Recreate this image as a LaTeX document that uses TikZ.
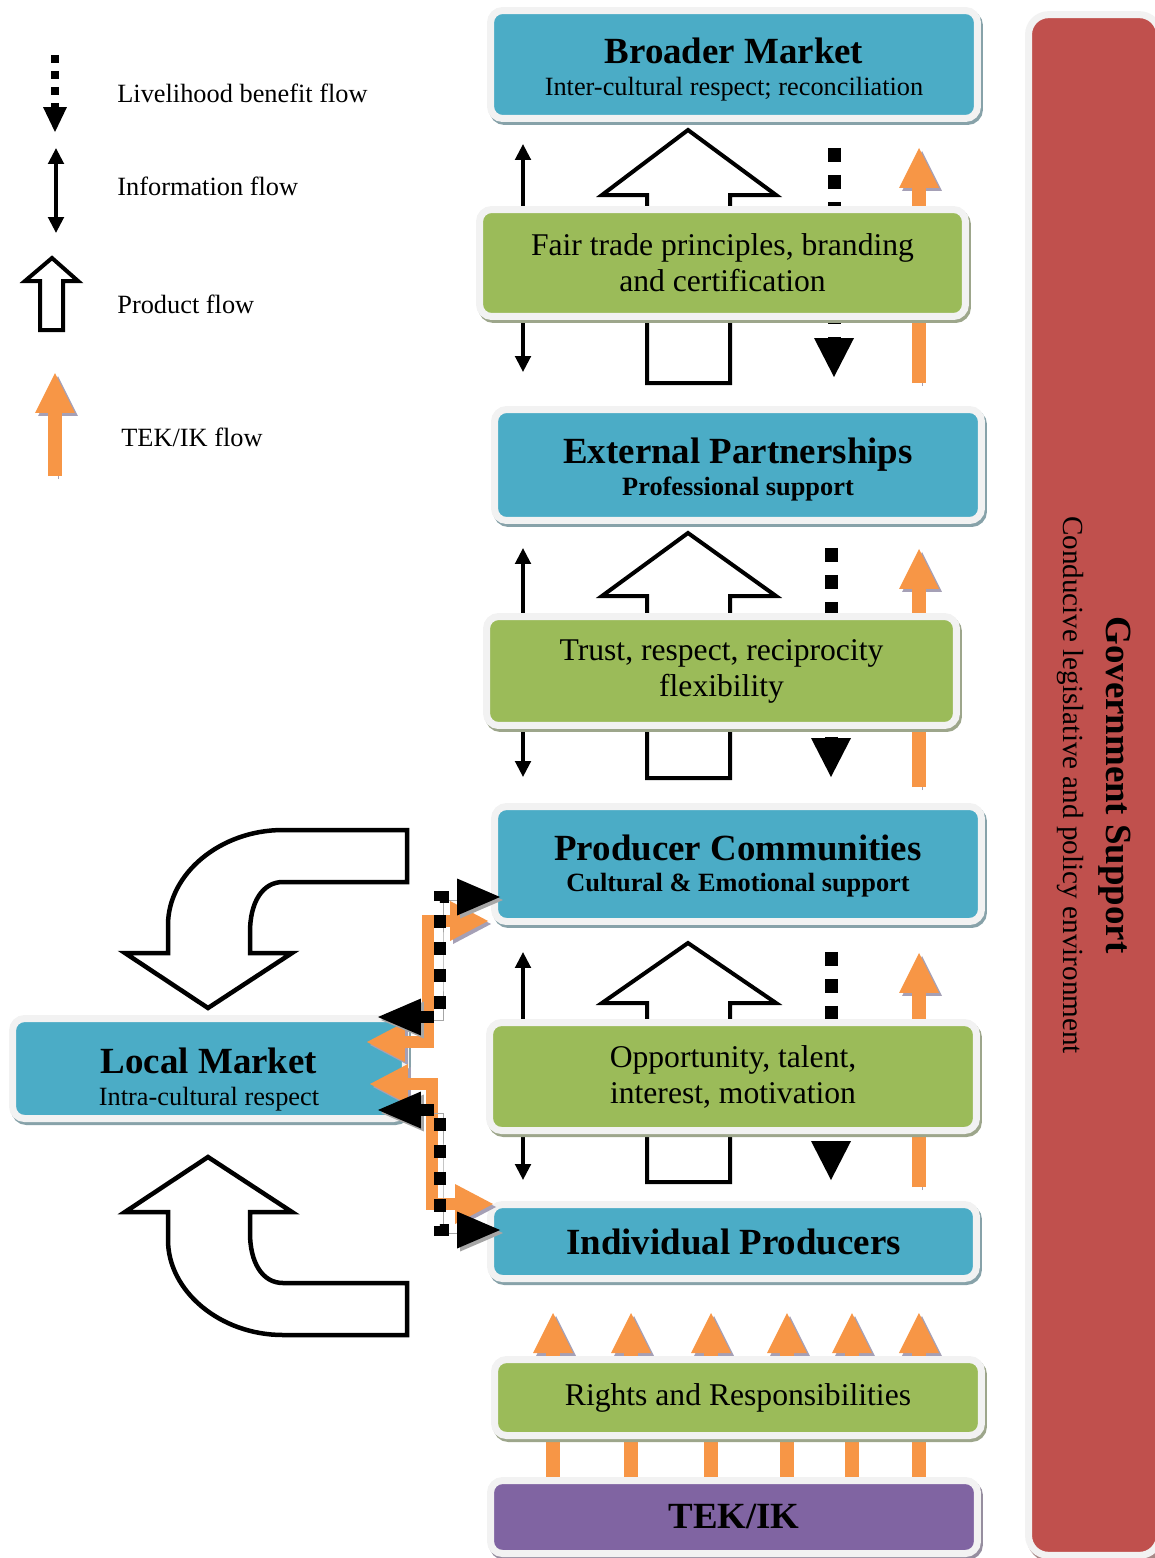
\documentclass[tikz,border=0pt]{standalone}
\usepackage{fontspec}
\setmainfont{Liberation Serif}
\usepackage{tikz}
\usetikzlibrary{arrows.meta,positioning}
\definecolor{boxblue}{RGB}{75,172,198}
\definecolor{boxgreen}{RGB}{155,187,89}
\definecolor{boxpurple}{RGB}{128,100,162}
\definecolor{govred}{RGB}{192,80,77}
\definecolor{tekorange}{RGB}{247,150,70}
\definecolor{tekshade}{RGB}{165,160,182}
\definecolor{rim}{RGB}{242,242,242}
\newcommand{\headline}[1]{{\fontsize{21}{25}\selectfont\bfseries #1}}
\pgfdeclarelayer{flows}
\pgfsetlayers{flows,main}

\begin{document}
\begin{tikzpicture}[
    x=0.02cm, y=-0.02cm,
    panel/.style    = {draw=rim, line width=0.14cm, rounded corners=0.24cm,
                       inner sep=0pt, align=center, fill=#1,
                       preaction={fill=#1!50!black!55!white, draw=#1!50!black!55!white,
                                  transform canvas={shift={(2,3)}}}},
    bluebox/.style  = {panel=boxblue, minimum width=9.74cm, font=\fontsize{15}{18}\selectfont},
    greenbox/.style = {panel=boxgreen, minimum width=9.74cm, font=\fontsize{18}{20.5}\selectfont},
    legend/.style   = {anchor=west, inner sep=0pt, font=\fontsize{15}{18}\selectfont},
    info/.style     = {line width=0.07cm, {Triangle[length=0.32cm, width=0.31cm]}-{Triangle[length=0.32cm, width=0.31cm]}},
    lbf/.style      = {line width=0.26cm, dash pattern=on 0.28cm off 0.26cm,
                       -{Triangle[length=0.78cm, width=0.8cm, line width=0pt]}},
    tekline/.style  = {draw=tekorange, line width=0.28cm,
                       preaction={draw=tekshade, transform canvas={shift={(3,3)}}}},
    tek/.style      = {tekline, -{Triangle[length=0.8cm, width=0.8cm, line width=0pt]}},
    prod/.style     = {draw=black, fill=white, line width=0.08cm, line join=miter},
    shade/.style    = {preaction={draw=black!35, transform canvas={shift={(3,3)}}}},
  ]
    \useasboundingbox (0,0) rectangle (1154,1558);

    \node[bluebox, minimum height=2.16cm] (bm) at (734,64.5)
      {\headline{\rule{0pt}{20pt}Broader Market}\\Inter-cultural respect; reconciliation};
    \node[greenbox, minimum width=9.72cm, minimum height=2.14cm] (ft) at (722.5,263)
      {Fair trade principles, branding\\and certification};
    \node[bluebox, minimum height=2.22cm] (ep) at (738,465)
      {\headline{\rule{0pt}{20pt}External Partnerships}\\\textbf{Professional support}};
    \node[greenbox, minimum width=9.40cm, minimum height=2.18cm] (tr) at (721.5,671)
      {Trust, respect, reciprocity\\flexibility};
    \node[bluebox, minimum height=2.30cm] (pc) at (738,864)
      {\headline{\rule{0pt}{17pt}Producer Communities}\\\textbf{Cultural \& Emotional support}};
    \node[greenbox, minimum height=2.16cm] (op) at (733,1076.5)
      {Opportunity, talent,\\interest, motivation};
    \node[bluebox, minimum width=9.72cm, minimum height=1.48cm] (ip) at (733.5,1241.5)
      {\headline{Individual Producers}};
    \node[greenbox, minimum height=1.52cm] (rr) at (738,1397.5)
      {Rights and Responsibilities};
    \node[panel=boxpurple, minimum width=9.74cm, minimum height=1.46cm] (tk) at (734,1517)
      {\headline{TEK/IK}};
    \node[bluebox, minimum width=7.86cm, minimum height=2.00cm] (lm) at (209,1068.5)
      {\headline{\rule{0pt}{27pt}Local Market}\\Intra-cultural respect};
    \node[panel=govred, rotate=-90, minimum width=30.82cm, minimum height=2.62cm,
          rounded corners=0.4cm, font=\fontsize{16.6}{24}\selectfont] (gs) at (1094,785)
      {\headline{Government Support}\\Conducive legislative and policy environment};

    \node[legend] (lglbf)  at (117,93)  {Livelihood benefit flow};
    \node[legend] (lginfo) at (117,186) {Information flow};
    \node[legend] (lgprod) at (117,304) {Product flow};
    \node[legend] (lgtek)  at (121,437) {TEK/IK flow};

    \draw[lbf, line width=0.16cm, dash pattern=on 0.16cm off 0.16cm,
          -{Triangle[length=0.5cm, width=0.48cm, line width=0pt]}] (55,55) -- (55,132);
    \draw[info] (56,148) -- (56,233);
    \draw[prod] (52,258) -- (78,281) -- (63,281) -- (63,330) -- (40,330) -- (40,281) -- (25,281) -- cycle;
    \draw[tek, line width=0.3cm] (55,476) -- (55,373);

    \coordinate (ci) at (523,0);
    \coordinate (cl) at (831,0);
    \coordinate (ct) at (919,0);

    \begin{pgfonlayer}{flows}
    \draw[info, shorten <=0.44cm, shorten >=0.68cm] (bm.south -| ci) -- (ep.north -| ci);
    \draw[lbf, shorten <=0.52cm, shorten >=0.58cm] ([xshift=0.06cm]bm.south -| cl) -- ([xshift=0.06cm]ep.north -| cl);
    \draw[tek, shorten <=0.46cm, shorten >=0.52cm] (ep.north -| ct) -- (bm.south -| ct);
    \draw[prod] (688,130) -- (776,195) -- (730,195) -- (730,383) -- (647,383) -- (647,195) -- (602,195) -- cycle;

    \draw[info, shorten <=0.48cm, shorten >=0.52cm] (ep.south -| ci) -- (pc.north -| ci);
    \draw[lbf, shorten <=0.48cm, shorten >=0.52cm] (ep.south -| cl) -- (pc.north -| cl);
    \draw[tek, shorten <=0.32cm, shorten >=0.50cm] (pc.north -| ct) -- (ep.south -| ct);
    \draw[prod] (688,533) -- (776,596) -- (730,596) -- (730,778) -- (647,778) -- (647,596) -- (602,596) -- cycle;

    \draw[info, shorten <=0.54cm, shorten >=0.42cm] (pc.south -| ci) -- (ip.north -| ci);
    \draw[lbf, shorten <=0.54cm, shorten >=0.42cm] (pc.south -| cl) -- (ip.north -| cl);
    \draw[tek, shorten <=0.28cm, shorten >=0.56cm] (ip.north -| ct) -- (pc.south -| ct);
    \draw[prod] (688,943) -- (776,1003) -- (730,1003) -- (730,1182) -- (647,1182) -- (647,1003) -- (602,1003) -- cycle;

    \draw[tek] ([xshift=-3.62cm]tk.north) -- ++(0,-164);
    \draw[tek] ([xshift=-2.06cm]tk.north) -- ++(0,-164);
    \draw[tek] ([xshift=-0.46cm]tk.north) -- ++(0,-164);
    \draw[tek] ([xshift=1.06cm]tk.north) -- ++(0,-164);
    \draw[tek] ([xshift=2.36cm]tk.north) -- ++(0,-164);
    \draw[tek] ([xshift=3.70cm]tk.north) -- ++(0,-164);
    \end{pgfonlayer}

    \draw[prod, line width=0.09cm] (208,1008) -- (292,953) -- (250,953) -- (250,932)
      .. controls (250,903) and (262,882) .. (283,882) -- (407,882) -- (407,830) -- (283,830)
      .. controls (220,830) and (168,874) .. (168,925) -- (168,953) -- (125,953) -- cycle;
    \draw[prod, line width=0.09cm] (208,1157) -- (292,1212) -- (250,1212) -- (250,1233)
      .. controls (250,1262) and (262,1283) .. (283,1283) -- (407,1283) -- (407,1335) -- (283,1335)
      .. controls (220,1335) and (168,1291) .. (168,1240) -- (168,1212) -- (125,1212) -- cycle;

    \coordinate (tkup) at (428,980);
    \coordinate (tkdn) at (432,1150);
    \coordinate (lbup) at (440,960);
    \coordinate (lbdn) at (440,1170);

    \draw[tekline, line width=0.24cm,
          {Triangle[length=0.76cm, width=0.8cm, line width=0pt]}-{Triangle[length=0.76cm, width=0.8cm, line width=0pt]}]
      ([xshift=-0.84cm, yshift=0.53cm]lm.east) -| (tkup) |- ([xshift=-0.06cm, yshift=-1.14cm]pc.west);
    \draw[tekline, line width=0.24cm,
          {Triangle[length=0.76cm, width=0.8cm, line width=0pt]}-{Triangle[length=0.76cm, width=0.8cm, line width=0pt]}]
      ([xshift=-0.78cm, yshift=-0.31cm]lm.east) -| (tkdn) |- ([xshift=0.12cm, yshift=0.75cm]ip.west);
    \draw[lbf, shade, line width=0.24cm, dash pattern=on 0.26cm off 0.28cm,
          {Triangle[length=0.86cm, width=0.74cm, line width=0pt]}-{Triangle[length=0.86cm, width=0.74cm, line width=0pt]}]
      ([xshift=-0.62cm, yshift=1.03cm]lm.east) -| (lbup) |- ([xshift=0.18cm, yshift=-0.66cm]pc.west);
    \draw[lbf, shade, line width=0.24cm, dash pattern=on 0.26cm off 0.28cm,
          {Triangle[length=0.86cm, width=0.74cm, line width=0pt]}-{Triangle[length=0.86cm, width=0.74cm, line width=0pt]}]
      ([xshift=-0.62cm, yshift=-0.83cm]lm.east) -| (lbdn) |- ([xshift=0.26cm, yshift=0.23cm]ip.west);
  \end{tikzpicture}
\end{document}
